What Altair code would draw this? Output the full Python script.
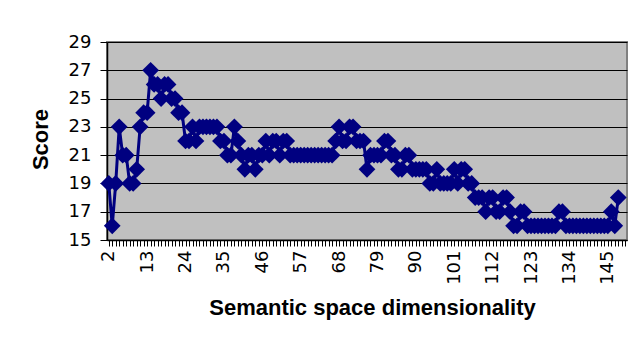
import altair as alt
import pandas as pd

dims = list(range(2, 149))
scores = [
    19, 16, 19, 23, 21, 21, 19, 19, 20, 23, 24, 24,
    27, 26, 26, 25, 26, 26, 25, 25, 24, 24, 22, 22,
    23, 22, 23, 23, 23, 23, 23, 23, 22, 22, 21, 21,
    23, 22, 21, 20, 21, 21, 20, 21, 21, 22, 21, 22,
    22, 21, 22, 22, 21, 21, 21, 21, 21, 21, 21, 21,
    21, 21, 21, 21, 21, 22, 23, 22, 22, 23, 23, 22,
    22, 22, 20, 21, 21, 21, 21, 22, 22, 21, 21, 20,
    20, 21, 21, 20, 20, 20, 20, 20, 19, 19, 20, 19,
    19, 19, 19, 20, 19, 20, 20, 19, 19, 18, 18, 18,
    17, 18, 18, 17, 17, 18, 18, 17, 16, 16, 17, 17,
    16, 16, 16, 16, 16, 16, 16, 16, 16, 17, 17, 16,
    16, 16, 16, 16, 16, 16, 16, 16, 16, 16, 16, 16,
    17, 16, 18,
]
y_ticks = [15, 17, 19, 21, 23, 25, 27, 29]
x_tick_values = list(range(2, 151))

df = pd.DataFrame({"dim": dims, "score": scores})

LABEL_FONT = "DejaVu Sans"
TITLE_FONT = "Liberation Sans"
NAVY = "#000080"

x_enc = alt.X(
    "dim:Q",
    scale=alt.Scale(domain=[1.5, 150.5], nice=False, zero=False),
    axis=alt.Axis(
        values=x_tick_values,
        labelExpr="(datum.value - 2) % 11 == 0 ? datum.label : ''",
        labelAngle=270,
        labelAlign="right",
        labelBaseline="middle",
        labelOverlap=False,
        labelFontSize=18,
        labelFont=LABEL_FONT,
        labelColor="black",
        labelPadding=4,
        tickSize=6,
        tickColor="black",
        tickWidth=1,
        domainColor="black",
        domainWidth=1.5,
        grid=False,
        title="Semantic space dimensionality",
        titleFont=TITLE_FONT,
        titleFontSize=22,
        titleFontWeight="bold",
        titleColor="black",
        titleBaseline="middle",
        titleY=67,
        titleX=265,
    ),
)
y_enc = alt.Y(
    "score:Q",
    scale=alt.Scale(domain=[15, 29], nice=False, zero=False),
    axis=alt.Axis(
        values=y_ticks,
        labelOverlap=False,
        labelFontSize=18,
        labelFont=LABEL_FONT,
        labelColor="black",
        labelPadding=9,
        tickSize=7,
        tickColor="black",
        domainColor="black",
        domainWidth=1.5,
        grid=True,
        gridColor="black",
        gridWidth=1,
        title="Score",
        titleFont=TITLE_FONT,
        titleFontSize=22,
        titleFontWeight="bold",
        titleColor="black",
        titleAngle=270,
        titleBaseline="middle",
        titleX=-67,
        titleY=97,
    ),
)

base = alt.Chart(df).encode(x=x_enc, y=y_enc)
line = base.mark_line(color=NAVY, strokeWidth=3)
pts = base.mark_point(shape="diamond", filled=True, color=NAVY, size=280, opacity=1)

chart = (
    alt.layer(line, pts)
    .properties(
        width=520,
        height=198,
        autosize=alt.AutoSizeParams(type="none"),
        padding={"left": 99, "top": 34, "right": 5, "bottom": 100},
        background="white",
    )
    .configure_view(fill="#C0C0C0", stroke="#808080", strokeWidth=2)
)

chart.save("out.html", embed_options={"renderer": "svg", "actions": False})
